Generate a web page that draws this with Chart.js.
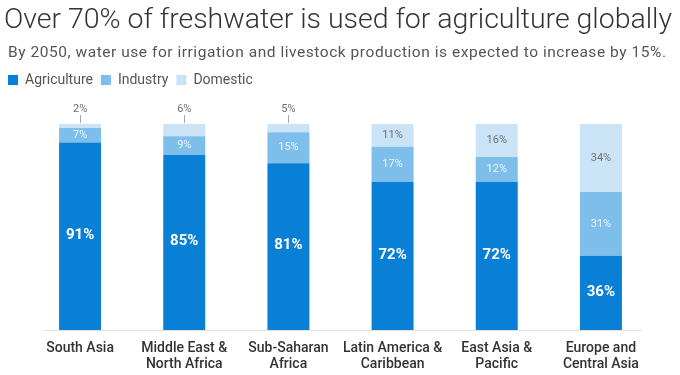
<!DOCTYPE html>
<html>
<head>
<meta charset="utf-8">
<script src="https://cdn.jsdelivr.net/npm/chart.js@4.4.1/dist/chart.umd.min.js"></script>
<style>
  body { margin: 0; background: #fff; font-family: Roboto, sans-serif; }
  #wrap { position: relative; width: 680px; height: 375px; overflow: hidden; }
  #title { position: absolute; left: 4px; top: 1px; font-size: 28.5px; font-weight: 300; color: #333; white-space: nowrap; line-height: 36px; }
  #sub { position: absolute; left: 8px; top: 42px; font-size: 15.5px; color: #555; white-space: nowrap; line-height: 20px; }
  canvas { position: absolute; left: 0; top: 0; }
</style>
</head>
<body>
<div id="wrap">
  <canvas id="chart" width="680" height="375"></canvas>
  <div id="title">Over 70% of freshwater is used for agriculture globally</div>
  <div id="sub">By 2050, water use for irrigation and livestock production is expected to increase by 15%.</div>
</div>
<script>
const regions = [
  ['South Asia'],
  ['Middle East &', 'North Africa'],
  ['Sub-Saharan', 'Africa'],
  ['Latin America &', 'Caribbean'],
  ['East Asia &', 'Pacific'],
  ['Europe and', 'Central Asia']
];
const agriculture = [91, 85, 81, 72, 72, 36];
const industry = [7, 9, 15, 17, 12, 31];
const domestic = [2, 6, 5, 11, 16, 34];

const COLORS = { agri: '#0a7fd6', ind: '#7ebeea', dom: '#cae3f6' };

// stretch a header line to the width it has in the original
function fitWidth(id, target) {
  const el = document.getElementById(id);
  const w = el.getBoundingClientRect().width;
  const n = el.textContent.length - 1;
  el.style.letterSpacing = ((target - w) / n).toFixed(3) + 'px';
}
fitWidth('title', 668);
fitWidth('sub', 658);

// labels on the segments, small top segments go above the bar with a tick
const segLabels = {
  id: 'segLabels',
  afterDatasetsDraw(chart) {
    const ctx = chart.ctx;
    const top = chart.chartArea.top;
    ctx.save();
    ctx.textAlign = 'center';
    ctx.textBaseline = 'middle';
    chart.data.datasets.forEach((ds, di) => {
      chart.getDatasetMeta(di).data.forEach((bar, i) => {
        const y1 = Math.max(bar.y, top), y2 = bar.base;
        const h = y2 - y1;
        const txt = ds.data[i] + '%';
        if (di === 0) {
          ctx.font = 'bold 15px Roboto';
          ctx.fillStyle = '#fff';
          ctx.fillText(txt, bar.x, (y1 + y2) / 2 - 1);
        } else if (di === 1) {
          ctx.font = '11px Roboto';
          ctx.fillStyle = '#eaf5fd';
          ctx.fillText(txt, bar.x, (y1 + y2) / 2);
        } else {
          ctx.font = '11px Roboto';
          ctx.fillStyle = '#707070';
          if (h < 16) {
            ctx.fillText(txt, bar.x, y1 - 15);
            ctx.strokeStyle = '#aaa';
            ctx.lineWidth = 1;
            ctx.beginPath();
            ctx.moveTo(Math.round(bar.x) + 0.5, y1 - 9);
            ctx.lineTo(Math.round(bar.x) + 0.5, y1 - 1);
            ctx.stroke();
          } else {
            ctx.fillText(txt, bar.x, (y1 + y2) / 2);
          }
        }
      });
    });
    ctx.restore();
  }
};

const baseLine = {
  id: 'baseLine',
  beforeDatasetsDraw(chart) {
    const { ctx, chartArea } = chart;
    ctx.save();
    ctx.strokeStyle = '#e2e2e2';
    ctx.lineWidth = 1;
    ctx.beginPath();
    ctx.moveTo(chartArea.left + 15, chartArea.bottom + 0.5);
    ctx.lineTo(chartArea.right - 11, chartArea.bottom + 0.5);
    ctx.stroke();
    ctx.restore();
  }
};

const legendSpace = {
  id: 'legendSpace',
  beforeInit(chart) {
    const fit = chart.legend.fit;
    chart.legend.fit = function () {
      fit.call(this);
      this.height = 59;
    };
  }
};

new Chart(document.getElementById('chart'), {
  type: 'bar',
  data: {
    labels: regions,
    datasets: [
      { label: 'Agriculture', data: agriculture, backgroundColor: COLORS.agri },
      { label: 'Industry', data: industry, backgroundColor: COLORS.ind },
      { label: 'Domestic', data: domestic, backgroundColor: COLORS.dom }
    ]
  },
  options: {
    responsive: false,
    animation: false,
    layout: { padding: { top: 65, left: 0, right: 0, bottom: 0 } },
    datasets: { bar: { barPercentage: 0.806, categoryPercentage: 0.5, borderWidth: 0 } },
    plugins: {
      legend: {
        align: 'start',
        labels: { boxWidth: 10, boxHeight: 10, padding: 8, color: '#555', font: { family: 'Roboto', size: 14 } }
      },
      tooltip: { enabled: false }
    },
    scales: {
      x: {
        stacked: true,
        grid: { display: false },
        border: { display: false },
        ticks: { color: '#333', font: { family: 'Roboto', size: 14, weight: '500', lineHeight: 1.15 }, padding: 2, maxRotation: 0, autoSkip: false },
        afterFit(s) { s.height = 45; }
      },
      y: {
        stacked: true, min: 0, max: 100,
        grid: { display: false }, border: { display: false },
        ticks: { display: false },
        afterFit(s) { s.width = 28; }
      },
      y2: {
        position: 'right',
        grid: { display: false }, border: { display: false },
        ticks: { display: false },
        afterFit(s) { s.width = 27; }
      }
    }
  },
  plugins: [segLabels, baseLine, legendSpace]
});
</script>
</body>
</html>
